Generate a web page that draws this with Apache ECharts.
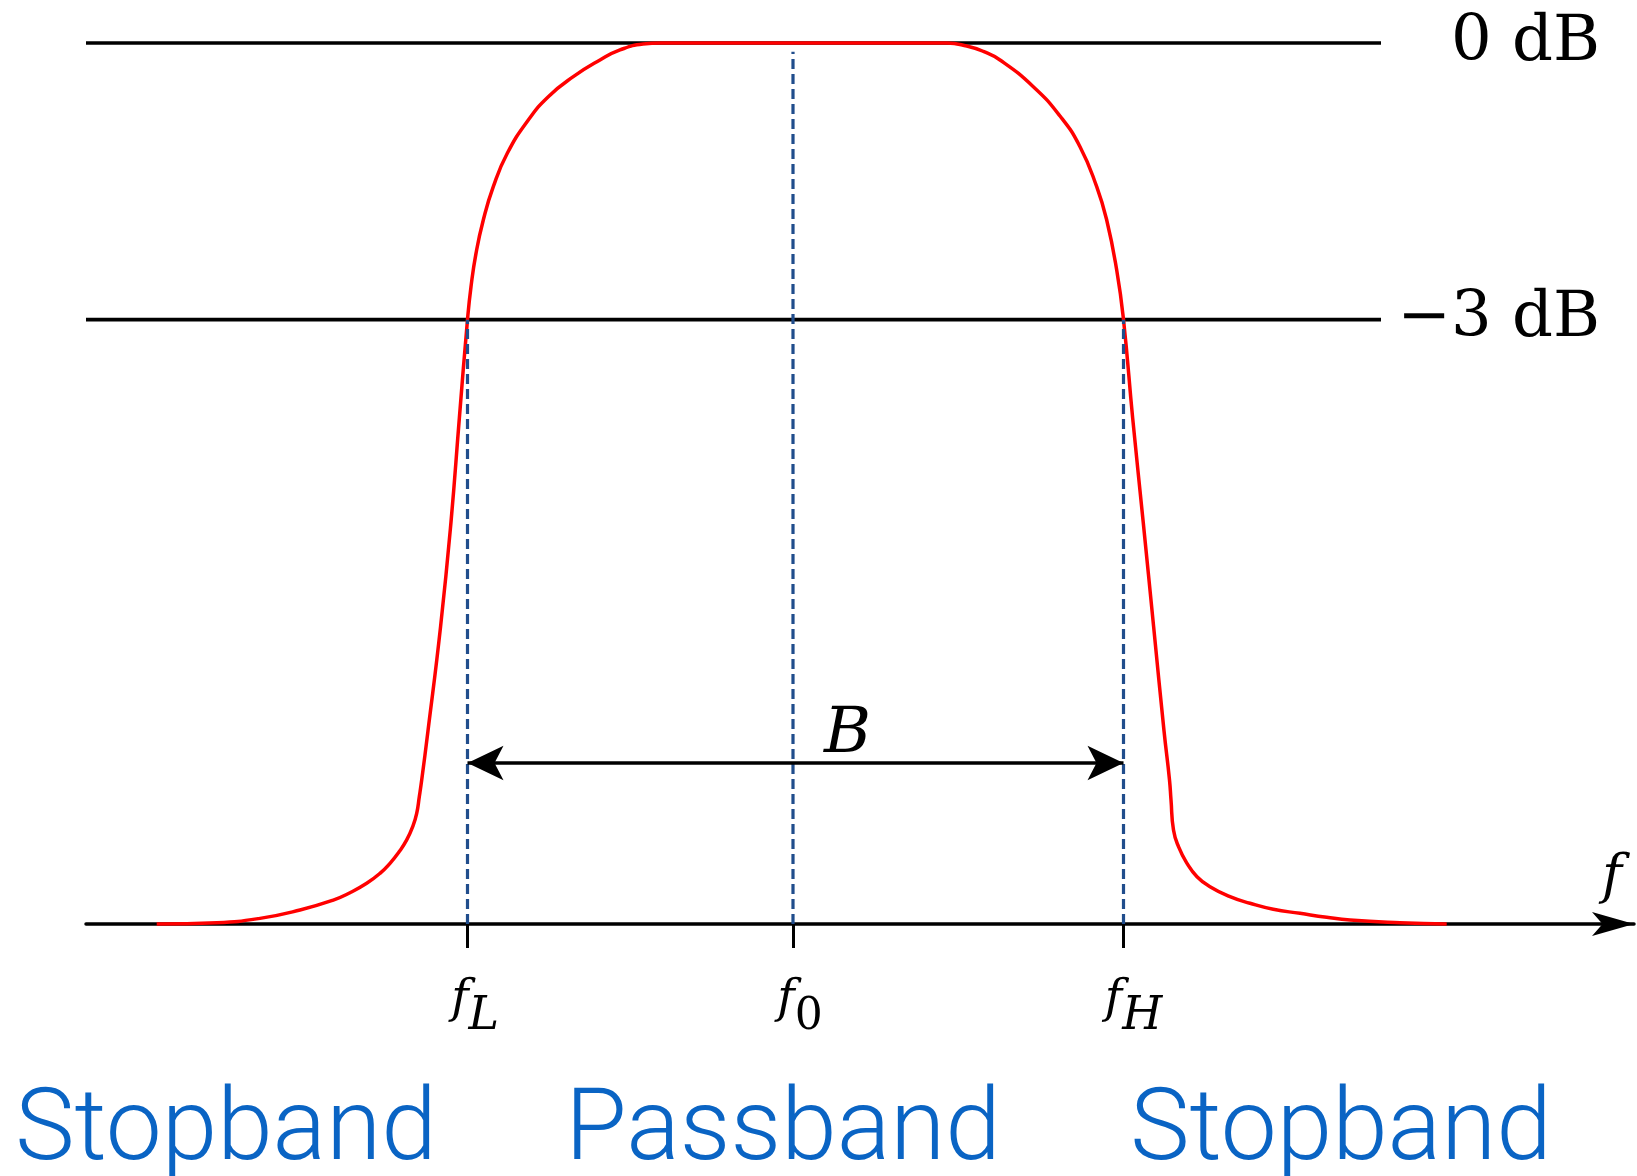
<!DOCTYPE html>
<html><head><meta charset="utf-8">
<script src="https://cdn.jsdelivr.net/npm/echarts@6/dist/echarts.min.js"></script>
<style>html,body{margin:0;padding:0;background:#fff}#c{width:1637px;height:1176px}</style>
</head><body><div id="c"></div>
<script>
// ---- data (schematic units: x = frequency units, y = relative level, 0 = axis, 1 = 0 dB) ----
const responseFreq = [7.07, 13.07, 17.4, 21.4, 24.73, 26.4, 28.07, 29.4, 30.4, 31.33, 32.07, 32.67, 33.07, 33.33, 33.57,
  34.2, 35.46, 36.5, 37.34, 38.15,
  38.5, 39.0, 39.73, 40.73, 42.13, 44.23, 46.23, 48.73, 51.4, 53.4, 55.7, 57.5,
  86.07, 88.07, 89.73, 91.4, 94.73, 97.4, 99.4, 101.07, 102.07, 103.07, 103.75,
  104.67, 105.72, 106.76, 107.8, 108.35, 108.5, 108.75, 109.25, 110.1, 111.1, 112.4, 114.4, 116.4, 118.73,
  121.4, 124.07, 126.4, 131.4, 136.07];
const responseGain = [0, 0.0015, 0.0064, 0.0159, 0.0272, 0.0355, 0.0462, 0.0575, 0.0689, 0.0822, 0.0954, 0.1105, 0.1257, 0.1445, 0.1635,
  0.2193, 0.3378, 0.4563, 0.5749, 0.686,
  0.7234, 0.7612, 0.7991, 0.8369, 0.8748, 0.9126, 0.9391, 0.9618, 0.9807, 0.9921, 0.9989, 1.0,
  1.0, 0.9966, 0.9905, 0.9807, 0.9504, 0.9171, 0.8823, 0.8369, 0.7991, 0.7423, 0.686,
  0.574, 0.4563, 0.3378, 0.2193, 0.1635, 0.1408, 0.1067, 0.0878, 0.0689, 0.0537, 0.0424, 0.031, 0.0235, 0.0167,
  0.0121, 0.0076, 0.0045, 0.0015, 0];
const tickValues = [38.15, 70.7, 103.75];          // fL, f0, fH
const tickSubscripts = ['L', '0', 'H'];
const markerTops = [0.686, 0.99, 0.686];          // top of dashed marker lines
const levelGain = [1, 0.686];                      // 0 dB, -3 dB
const levelLabels = ['0 dB', '\u22123 dB'];
const levelRange = [0, 129.5];
const bandwidthGain = 0.1827;
const bandwidthLabel = 'B';
const bandLabels = ['Stopband', 'Passband', 'Stopband'];
const axisName = 'f';

const serif = 'DejaVu Serif';
const chart = echarts.init(document.getElementById('c'), null, {renderer: 'canvas'});

const series = [];
levelGain.forEach((g, i) => {
  series.push({
    type: 'line', clip: false, symbol: 'none', silent: true, z: 2,
    data: levelRange.map(x => [x, g]),
    lineStyle: {color: '#000', width: 3.6},
    endLabel: {show: true, formatter: levelLabels[i], align: 'right', distance: 219,
      fontFamily: serif, fontSize: 64, color: '#000'}
  });
});
series.push({
  type: 'line', clip: false, symbol: 'none', silent: true, z: 3,
  smooth: 0.5,
  data: responseFreq.map((x, i) => [x, responseGain[i]]),
  lineStyle: {color: '#ff0000', width: 3.5}
});
tickValues.forEach((x, i) => {
  series.push({
    type: 'line', clip: false, symbol: 'none', silent: true, z: 4,
    data: [[x, 0], [x, markerTops[i]]],
    lineStyle: {color: '#204d8c', width: 3.2, type: [10, 5]}
  });
});
series.push({
  type: 'line', clip: false, symbol: 'none', silent: true, z: 5, data: [],
  markLine: {
    silent: true, animation: false,
    symbol: ['arrow', 'arrow'], symbolSize: [26, 36],
    lineStyle: {color: '#000', width: 3.5, type: 'solid'},
    label: {show: true, position: 'insideMiddleTop', formatter: bandwidthLabel, distance: 0, offset: [52, 4],
      fontFamily: serif, fontStyle: 'italic', fontSize: 64, color: '#000'},
    data: [[{coord: [tickValues[0], bandwidthGain]}, {coord: [tickValues[2], bandwidthGain]}]]
  }
});

const option = {
  animation: false,
  backgroundColor: '#fff',
  grid: {left: 86, right: 3, top: 43, bottom: 252, containLabel: false, outerBoundsMode: 'none'},
  xAxis: {
    type: 'value', min: 0, max: 154.8,
    name: axisName, nameLocation: 'end', nameGap: 0,
    nameTextStyle: {fontFamily: serif, fontStyle: 'italic', fontSize: 54, color: '#000',
      align: 'right', verticalAlign: 'bottom', padding: [0, 12, 18, 0]},
    axisLine: {show: true, onZero: false, symbol: ['none', 'arrow'], symbolSize: [18, 42],
      lineStyle: {color: '#000', width: 3.5}},
    axisTick: {show: true, customValues: tickValues, length: 24, inside: false,
      lineStyle: {color: '#000', width: 3}},
    axisLabel: {show: true, customValues: tickValues, margin: 52, color: '#000',
      formatter: function (v) {
        let best = 0;
        tickValues.forEach((t, i) => { if (Math.abs(t - v) < Math.abs(tickValues[best] - v)) best = i; });
        const s = tickSubscripts[best];
        const digit = /[0-9]/.test(s);
        return '{' + (digit ? 'hd' : 'h') + '|' + s + '}{f|f}{' + (digit ? 'd' : 's') + '|' + s + '}';
      },
      rich: {
        h: {fontFamily: serif, fontStyle: 'italic', fontSize: 23, color: 'transparent', verticalAlign: 'bottom', lineHeight: 64},
        hd: {fontFamily: serif, fontSize: 22, color: 'transparent', verticalAlign: 'bottom', lineHeight: 64},
        f: {fontFamily: serif, fontStyle: 'italic', fontSize: 47, color: '#000', verticalAlign: 'top', lineHeight: 50},
        s: {fontFamily: serif, fontStyle: 'italic', fontSize: 46, color: '#000', verticalAlign: 'bottom', lineHeight: 64},
        d: {fontFamily: serif, fontSize: 44, color: '#000', verticalAlign: 'bottom', lineHeight: 64}
      }
    },
    splitLine: {show: false}
  },
  yAxis: {type: 'value', min: 0, max: 1, show: false},
  graphic: bandLabels.map((t, i) => ({
    type: 'text', silent: true,
    x: [226, 783, 1341][i], y: 1130,
    style: {text: t, fill: '#0a64c4', fontFamily: 'Roboto Light, Roboto', fontWeight: 300, fontSize: 100,
      textAlign: 'center', textVerticalAlign: 'middle'}
  })),
  series: series
};
chart.setOption(option);
</script>
</body></html>
